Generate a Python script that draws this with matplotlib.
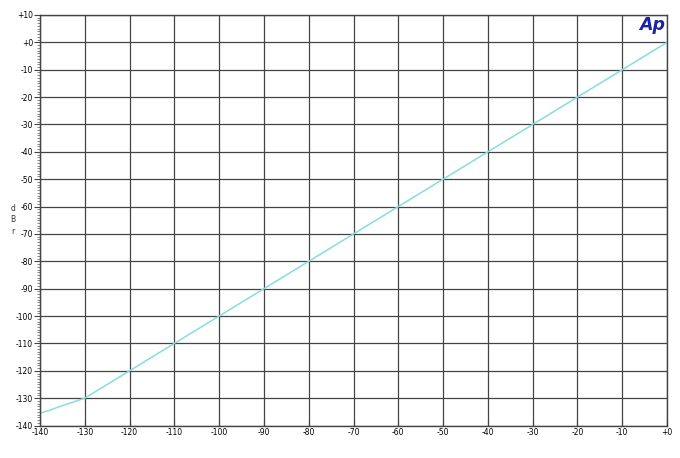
import matplotlib
matplotlib.use("Agg")
import matplotlib.pyplot as plt
from matplotlib.ticker import MultipleLocator

# Data (input level dBFS -> output level dBr)
x_in = [-140, -138, -136, -134, -132, -130, -125, -120, -110, -100, -90, -80,
        -70, -60, -50, -40, -30, -20, -10, 0]
y_out = [-135.5, -134.5, -133.3, -132.2, -131.1, -130, -125, -120, -110, -100,
         -90, -80, -70, -60, -50, -40, -30, -20, -10, 0]

x_ticks = [-140, -130, -120, -110, -100, -90, -80, -70, -60, -50, -40, -30, -20, -10, 0]
x_labels = ["-140", "-130", "-120", "-110", "-100", "-90", "-80", "-70", "-60",
            "-50", "-40", "-30", "-20", "-10", "+0"]
y_ticks = [10, 0, -10, -20, -30, -40, -50, -60, -70, -80, -90, -100, -110, -120, -130, -140]
y_labels = ["+10", "+0", "-10", "-20", "-30", "-40", "-50", "-60", "-70", "-80",
            "-90", "-100", "-110", "-120", "-130", "-140"]

fig = plt.figure(figsize=(6.8, 4.58), dpi=100)
ax = fig.add_axes([40/680, 1 - 425.5/458, 627/680, (425.5 - 15)/458])

ax.plot(x_in, y_out, color="#86dde0", lw=1.1)

ax.set_xlim(-140, 0)
ax.set_ylim(-140, 10)
ax.set_xticks(x_ticks)
ax.set_xticklabels(x_labels)
ax.set_yticks(y_ticks)
ax.set_yticklabels(y_labels)
ax.yaxis.set_minor_locator(MultipleLocator(1))
ax.grid(True, which="major", color="#444444", lw=0.9)
ax.tick_params(axis="x", which="major", labelsize=5.5, length=4, width=0.8,
               color="#444444", pad=2, direction="in")
ax.tick_params(axis="y", which="major", labelsize=5.5, length=4, width=0.8,
               color="#444444", pad=1, direction="out")
ax.tick_params(axis="y", which="minor", length=2.5, width=0.5, color="#555555",
               direction="out")
for s in ax.spines.values():
    s.set_color("#444444")
    s.set_linewidth(1.0)

fig.text(13/680, 1 - 220/458, "d\nB\nr", fontsize=5.5, ha="center", va="center",
         linespacing=1.3, color="#333333")

ax.text(0.997, 0.997, "Ap", transform=ax.transAxes, ha="right", va="top",
        fontsize=12.5, fontweight="bold", fontstyle="italic", color="#1a22a8")

fig.savefig("out.png", dpi=100)
